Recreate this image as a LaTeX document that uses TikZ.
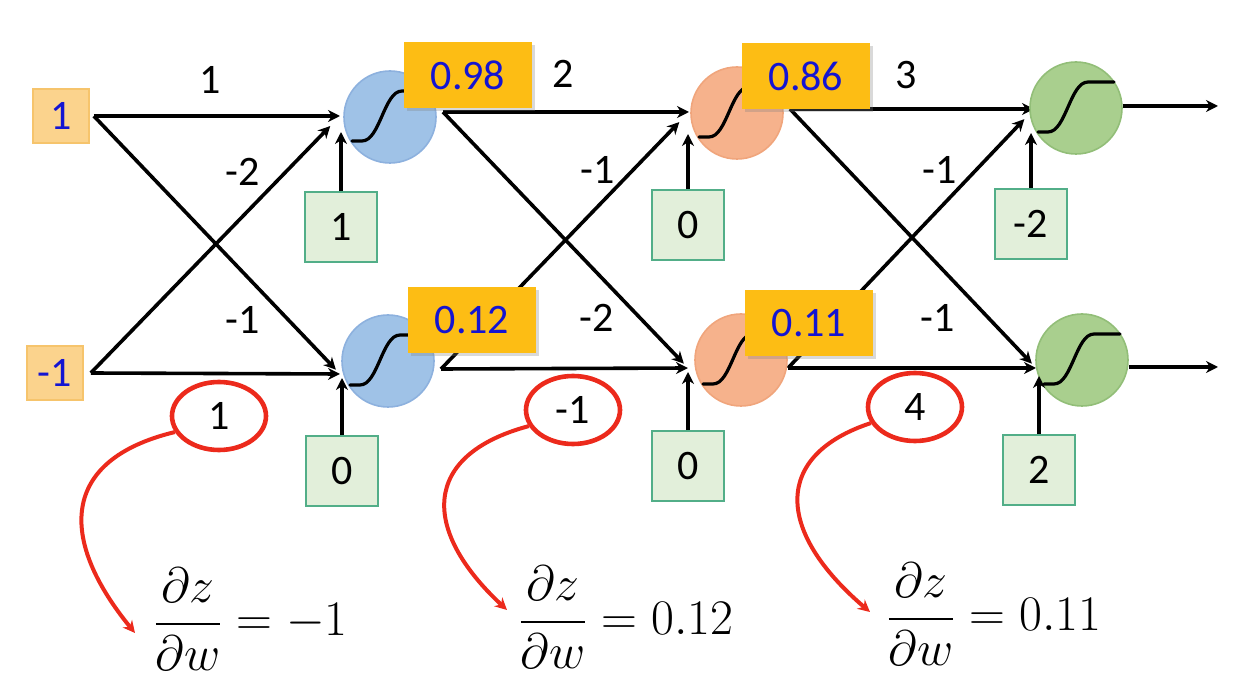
\documentclass[tikz,border=0pt]{standalone}
\usepackage{amsmath}
\usepackage{fontspec}
\setmainfont{Carlito}
\usetikzlibrary{arrows.meta,shapes.geometric,shadows}
\definecolor{infill}{HTML}{FBD38D}
\definecolor{inline}{HTML}{F6C46C}
\definecolor{valfill}{HTML}{FDBD14}
\definecolor{valtext}{HTML}{1414D2}
\definecolor{bluefill}{HTML}{9FC2E7}
\definecolor{blueline}{HTML}{8DB1DE}
\definecolor{orangefill}{HTML}{F6B28C}
\definecolor{orangeline}{HTML}{F0A57C}
\definecolor{greenfill}{HTML}{A9CF8E}
\definecolor{greenline}{HTML}{92BE78}
\definecolor{biasfill}{HTML}{E2EFDA}
\definecolor{biasline}{HTML}{52AE88}
\definecolor{redline}{HTML}{EC2A1C}
\begin{document}
\begin{tikzpicture}[x=0.5pt,y=-0.5pt,
    font=\fontsize{21}{25}\selectfont,
    >={Stealth[length=6pt,width=6pt]},
    wire/.style={->, line width=1.8pt},
    inbox/.style={rectangle, fill=infill, draw=inline, line width=0.8pt, minimum width=28pt, minimum height=27pt, text=valtext, inner sep=0pt},
    neuron/.style={circle, minimum size=46pt, inner sep=0pt, line width=0.8pt},
    sig/.style={line width=1.6pt, line cap=round},
    valbox/.style={rectangle, fill=valfill, minimum width=64pt, minimum height=33pt, text=valtext, inner sep=0pt,
      drop shadow={opacity=0.3, shadow xshift=1.5pt, shadow yshift=-1.5pt}},
    biasbox/.style={rectangle, fill=biasfill, draw=biasline, line width=0.8pt, minimum width=36pt, minimum height=35pt, inner sep=0pt},
    circled/.style={ellipse, draw=redline, line width=2.3pt, minimum width=47pt, minimum height=34pt, inner sep=0pt},
    pointer/.style={->, draw=redline, line width=2pt},
    formula/.style={anchor=base west, inner sep=0pt, font=\fontsize{24}{28}\selectfont}]
  \useasboundingbox (0,0) rectangle (1239,679);

  \node[inbox] (in1) at (61,116) {1};
  \node[inbox] (in2) at (55,373) {-1};

  \coordinate (c11) at (340,116);
  \coordinate (c12) at (340,374);
  \coordinate (c21) at (689,112);
  \coordinate (c22) at (688,368);
  \coordinate (c31) at (1034,109);
  \coordinate (c32) at (1036,368);
  \coordinate (o11) at (443,112);
  \coordinate (o12) at (441,369);
  \coordinate (o21) at (790,109);
  \coordinate (o22) at (788,368);
  \coordinate (y1) at (1218,106);
  \coordinate (y2) at (1218,367);

  \draw[wire] ([xshift=2pt]in1.east) -- (c11);
  \draw[wire, shorten >=3pt] ([xshift=2pt]in1.east) -- (c12);
  \draw[wire, shorten >=7pt] ([xshift=3.5pt]in2.east) -- (c11);
  \draw[wire] ([xshift=3.5pt]in2.east) -- (c12);

  \draw[wire] (o11) -- (c21);
  \draw[wire, shorten >=3pt] (o11) -- (c22);
  \draw[wire, shorten >=7pt] (o12) -- (c21);
  \draw[wire] (o12) -- (c22);

  \draw[wire] (o21) -- (c31);
  \draw[wire, shorten >=3pt] (o21) -- (c32);
  \draw[wire, shorten >=7pt] (o22) -- (c31);
  \draw[wire] (o22) -- (c32);

  \node[neuron, fill=bluefill, draw=blueline] (n11) at (390,117) {};
  \node[neuron, fill=bluefill, draw=blueline] (n12) at (388,361) {};
  \node[neuron, fill=orangefill, draw=orangeline] (n21) at (737,113) {};
  \node[neuron, fill=orangefill, draw=orangeline] (n22) at (741,360) {};
  \node[neuron, fill=greenfill, draw=greenline] (n31) at (1076,108) {};
  \node[neuron, fill=greenfill, draw=greenline] (n32) at (1082,360) {};

  \foreach \n in {n11,n12,n21,n22,n31,n32}
    \draw[sig] ([shift={(-38,24)}]\n.center) -- ++(10,0)
      .. controls +(18,0) and +(-18,0) .. ++(40,-50) -- ++(26,0);

  \draw[wire] (n31.east |- y1) -- (y1);
  \draw[wire] (n32.east |- y2) -- (y2);

  \node[valbox] (v11) at (468,75) {0.98};
  \node[valbox] (v12) at (472,320) {0.12};
  \node[valbox] (v21) at (806,76) {0.86};
  \node[valbox] (v22) at (809,323) {0.11};

  \node[biasbox] (b11) at (341,227) {1};
  \node[biasbox] (b12) at (342,471) {0};
  \node[biasbox] (b21) at (688,225) {0};
  \node[biasbox] (b22) at (688,466) {0};
  \node[biasbox] (b31) at (1031,224) {-2};
  \node[biasbox] (b32) at (1039,470) {2};

  \draw[wire, shorten >=8pt] (b11.north) -- (b11.north |- c11);
  \draw[wire, shorten >=2pt] (b12.north) -- (b12.north |- c12);
  \draw[wire, shorten >=11pt] (b21.north) -- (b21.north |- c21);
  \draw[wire, shorten >=2pt] (b22.north) -- (b22.north |- c22);
  \draw[wire, shorten >=12pt] (b31.north) -- (b31.north |- c31);
  \draw[wire, shorten >=4pt] (b32.north) -- (b32.north |- c32);

  \node (w11) at (210,80) {1};
  \node (w12) at (243,172) {-2};
  \node (w13) at (243,320) {-1};
  \node (w21) at (563,74) {2};
  \node (w22) at (598,170) {-1};
  \node (w23) at (597,318) {-2};
  \node (w31) at (906,75) {3};
  \node (w32) at (940,170) {-1};
  \node (w33) at (938,318) {-1};

  \node[circled] (e1) at (219,416) {1};
  \node[circled] (e2) at (573,410) {-1};
  \node[circled] (e3) at (915,407) {4};

  \node[formula] (f1) at (153,636) {$\dfrac{\partial z}{\partial w} = -1$};
  \node[formula] (f2) at (518,634) {$\dfrac{\partial z}{\partial w} = 0.12$};
  \node[formula] (f3) at (886,631) {$\dfrac{\partial z}{\partial w} = 0.11$};

  \draw[pointer] (e1.200) .. controls (59,460) and (59,540) .. ([shift={(-18,-3)}]f1.base west);
  \draw[pointer] (e2.200) .. controls (421,455) and (421,530) .. ([shift={(-11,-24)}]f2.base west);
  \draw[pointer] (e3.200) .. controls (774,455) and (774,530) .. ([shift={(-16,-19)}]f3.base west);
\end{tikzpicture}
\end{document}
